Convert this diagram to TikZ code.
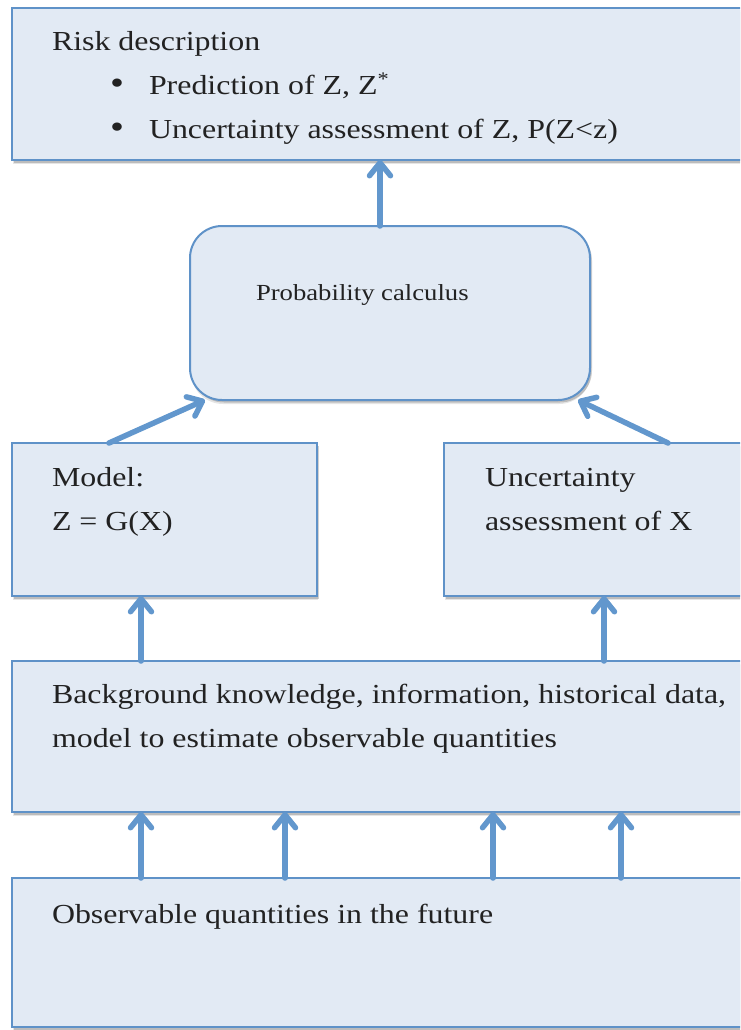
\documentclass[tikz,border=0pt]{standalone}
\usepackage{fontspec}
\setmainfont{Liberation Serif}[FakeStretch=1.16]
\usetikzlibrary{arrows.meta,shadows}

\definecolor{boxfill}{HTML}{E2EAF4}
\definecolor{boxline}{HTML}{5F92C8}
\definecolor{flowline}{HTML}{6297CD}
\definecolor{ink}{HTML}{222222}

\tikzset{
  panel/.style={draw=boxline, line width=2pt, fill=boxfill, anchor=north west,
    inner sep=0pt, outer sep=0pt,
    drop shadow={shadow xshift=1pt, shadow yshift=-4pt, fill=black, opacity=0.10},
    drop shadow={shadow xshift=2pt, shadow yshift=-2.5pt, fill=black, opacity=0.18}},
  roundpanel/.style={panel, rounded corners=32pt},
  txt/.style={anchor=base west, inner sep=0pt, outer sep=0pt, text=ink,
    font=\fontsize{27.5pt}{44pt}\selectfont},
  smalltxt/.style={txt, font=\fontsize{23pt}{30pt}\selectfont},
  flow/.style={draw=flowline, line width=5.5pt, line cap=round,
    -{Straight Barb[length=13pt, width=21pt, round]}},
}

\begin{document}
\begin{tikzpicture}[x=1pt, y=-1pt]
\useasboundingbox (0,0) rectangle (740,1030);
\clip (0,0) rectangle (740,1030);

% boxes
\node[panel, minimum width=800pt, minimum height=152pt] (risk) at (12,8) {};
\node[roundpanel, minimum width=400pt, minimum height=174pt] (prob) at (190,226) {};
\node[panel, minimum width=305pt, minimum height=153pt] (model) at (12,443) {};
\node[panel, minimum width=360pt, minimum height=153pt] (unc) at (444,443) {};
\node[panel, minimum width=800pt, minimum height=151pt] (bg) at (12,661) {};
\node[panel, minimum width=800pt, minimum height=149pt] (obs) at (12,878) {};

% texts
\node[txt] (t-risk) at (52,51) {Risk description};
\node[txt] (b1) at (110,95) {\scalebox{1.25}{\textbullet}};
\node[txt] (t-pred) at (149,95) {Prediction of Z, Z\textsuperscript{*}};
\node[txt] (b2) at (110,139) {\scalebox{1.25}{\textbullet}};
\node[txt] (t-unc) at (149,139) {Uncertainty assessment of Z, P(Z<z)};

\node[smalltxt] (t-prob) at (256,300) {Probability calculus};

\node[txt] (t-model1) at (52,486) {Model:};
\node[txt] (t-model2) at (52,530) {Z = G(X)};

\node[txt] (t-ua1) at (485,486) {Uncertainty};
\node[txt] (t-ua2) at (485,530) {assessment of X};

\node[txt] (t-bg1) at (52,703) {Background knowledge, information, historical data,};
\node[txt] (t-bg2) at (52,747) {model to estimate observable quantities};

\node[txt] (t-obs) at (52,923) {Observable quantities in the future};

% connectors
\draw[flow] ([xshift=-10pt]prob.north) -- ([xshift=-10pt]prob.north |- risk.south);

\draw[flow] ([xshift=97pt]model.north west) -- ([xshift=15pt]prob.south west);
\draw[flow] ([xshift=224pt]unc.north west) -- ([xshift=-12pt]prob.south east);

\draw[flow] ([xshift=129pt]bg.north west) -- ([xshift=129pt]bg.north west |- model.south);
\draw[flow] ([xshift=592pt]bg.north west) -- ([xshift=592pt]bg.north west |- unc.south);

\foreach \dx in {129,273,481,609}
  \draw[flow] ([xshift=\dx pt]obs.north west) -- ([xshift=\dx pt]obs.north west |- bg.south);
\end{tikzpicture}
\end{document}
